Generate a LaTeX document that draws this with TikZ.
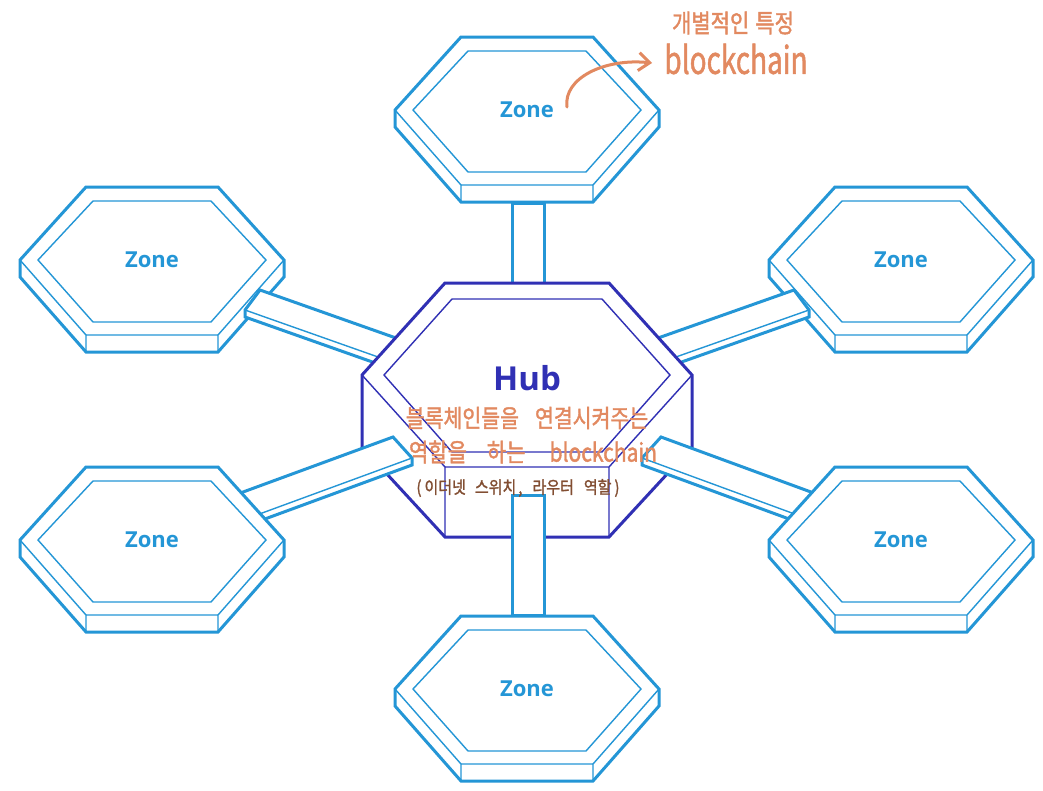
\documentclass[tikz,border=0pt]{standalone}
\usepackage{fontspec}
\setmainfont{Open Sans}
\newfontfamily\krfont[FakeBold=1.6]{Noto Sans CJK KR}
\usetikzlibrary{arrows.meta}
\definecolor{zoneblue}{RGB}{36,150,214}
\definecolor{hubblue}{RGB}{48,48,180}
\definecolor{annotorange}{RGB}{226,137,96}
\definecolor{annotbrown}{RGB}{130,78,50}
\tikzset{
  zoneout/.style={draw=zoneblue, fill=white, line width=3pt},
  zonein/.style={draw=zoneblue, line width=1.4pt},
  hubout/.style={draw=hubblue, fill=white, line width=3pt},
  hubin/.style={draw=hubblue, line width=1.4pt},
  barout/.style={draw=zoneblue, fill=white, line width=3pt},
  barin/.style={draw=zoneblue, line width=1.4pt},
  zonelabel/.style={text=zoneblue, font=\bfseries\fontsize{22}{22}\selectfont, inner sep=0pt},
  hublabel/.style={text=hubblue, font=\bfseries\fontsize{33}{33}\selectfont, inner sep=0pt},
  annot/.style={text=annotorange, inner sep=0pt},
  annotarrow/.style={draw=annotorange, line width=3pt, line cap=round, line join=round,
    -{Straight Barb[length=11pt,width=18pt,line width=3pt]}},
}
\newcommand\zoneshape[3]{%
  \begin{scope}[shift={(#2,#3)}]
    \draw[zoneout] (-132,0)--(-66,-73)--(66,-73)--(132,0)--(132,17)--(66,92)--(-66,92)--(-132,17)--cycle;
    \draw[zonein] (-132,0)--(-66,75)--(66,75)--(132,0) (-66,75)--(-66,92) (66,75)--(66,92);
    \draw[zonein] (-114,0)--(-59,-59)--(59,-59)--(114,0)--(59,62)--(-59,62)--cycle;
    \node[zonelabel] (#1) at (0,0) {Zone};
  \end{scope}}
% bar: S, M, Bs (cap end), T, Me, B (other end)
\newcommand\barshape[6]{%
  \draw[barout] #1 -- #4 -- #6 -- #3 -- #2 -- cycle;
  \draw[barin] #2 -- #5;}
\begin{document}
\begin{tikzpicture}[x=1pt,y=-1pt]
\useasboundingbox[fill=white] (0,0) rectangle (1043,790);
% upper zones
\zoneshape{zT}{527}{110}
\zoneshape{zUL}{152}{260}
\zoneshape{zUR}{901}{260}
% top bar
\draw[barout] (512,203) rectangle (544,283);
% upper bars (over zones, under hub)
\barshape{(260,290)}{(245,310)}{(245,317)}{(420,346.5)}{(420,371.8)}{(420,378.8)}
\barshape{(794,290)}{(809,310)}{(809,317)}{(634,346.5)}{(634,371.8)}{(634,378.8)}
% hub
\begin{scope}[shift={(527,375)}]
  \draw[hubout] (-165,0)--(-82,-92)--(82,-92)--(165,0)--(165,72)--(82,162)--(-82,162)--(-165,72)--cycle;
  \draw[hubin] (-165,0)--(-82,92)--(82,92)--(165,0) (-82,92)--(-82,162) (82,92)--(82,162);
  \draw[hubin] (-143,0)--(-75,-76)--(75,-76)--(143,0)--(75,77)--(-75,77)--cycle;
  \node[hublabel] (hub) at (0,3) {Hub};
\end{scope}
% lower bars (over hub, under zones)
\barshape{(393,437)}{(412,458)}{(412,465)}{(200,507.8)}{(200,535.8)}{(200,542.8)}
\barshape{(661,437)}{(642,458)}{(642,465)}{(854,507.8)}{(854,535.8)}{(854,542.8)}
% lower zones
\zoneshape{zLL}{152}{540}
\zoneshape{zLR}{901}{540}
\zoneshape{zB}{527}{689}
% bottom bar (over hub)
\draw[barout] (512,495) rectangle (544,615);
% annotations
\node[annot, font=\krfont\fontsize{20.5}{20}\selectfont, yscale=1.2] (hubnote1) at (527,418) {블록체인들을\hspace{16pt}연결시켜주는};
\node[annot, font=\krfont\fontsize{21}{21}\selectfont, yscale=1.2] (hubnote2) at (533,452) {역할을\hspace{20pt}하는\hspace{24pt}blockchain};
\node[annot, text=annotbrown, font=\krfont\fontsize{15}{15}\selectfont, yscale=1.15] (hubnote3) at (518,488) {(\hspace{3pt}이더넷\hspace{9pt}스위치\hspace{2pt},\hspace{10pt}라우터\hspace{10pt}역할\hspace{3pt})};
\node[annot, font=\krfont\fontsize{21}{21}\selectfont, yscale=1.2] (zonenote1) at (733,23) {개별적인\hspace{6pt}특정};
\node[annot, font=\krfont\fontsize{28}{28}\selectfont, yscale=1.35] (zonenote2) at (736,59) {blockchain};
\coordinate (arrS) at (567,107);
\coordinate (arrE) at (652,63);
\draw[annotarrow] (arrS) .. controls (563,78) and (605,58) .. (arrE);
\end{tikzpicture}
\end{document}
